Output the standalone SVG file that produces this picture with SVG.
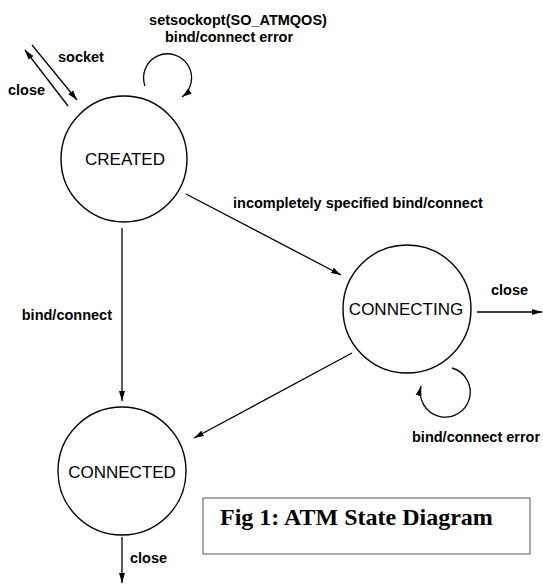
<svg xmlns="http://www.w3.org/2000/svg" width="543" height="584" viewBox="0 0 543 584">
<style>
.state{fill:#fff;stroke:#000;stroke-width:1.4}
.stext{font-family:"Liberation Sans",Arial,sans-serif;font-size:17px;fill:#000;text-anchor:middle}
.edge{fill:none;stroke:#000;stroke-width:1.3;marker-end:url(#arr)}
.lbl{font-family:"Liberation Sans",Arial,sans-serif;font-size:14.5px;font-weight:bold;fill:#000}
</style>
<defs>
<marker id="arr" markerUnits="userSpaceOnUse" markerWidth="11" markerHeight="7" refX="10" refY="3.5" orient="auto">
<path d="M0,0.5 L10,3.5 L0,6.5 z" fill="#000"/>
</marker>
</defs>
<rect width="543" height="584" fill="#fff"/>
<g id="connectors">
<line class="edge" x1="32" y1="45" x2="77" y2="100"/>
<line class="edge" x1="68" y1="106" x2="25" y2="50"/>
<path class="edge" d="M145,86 A24,24 0 1 1 182,97"/>
<line class="edge" x1="186" y1="194" x2="341" y2="275"/>
<line class="edge" x1="122" y1="228" x2="122" y2="401"/>
<line class="edge" x1="352" y1="353" x2="194" y2="438"/>
<line class="edge" x1="477" y1="312" x2="542" y2="312"/>
<path class="edge" d="M452,368 A25,25 0 1 1 421,386"/>
<line class="edge" x1="122" y1="537" x2="122" y2="583"/>
</g>
<g id="labels">
<text class="lbl" x="58" y="62">socket</text>
<text class="lbl" x="8" y="95">close</text>
<text class="lbl" x="238" y="25" text-anchor="middle" font-size="15">setsockopt(SO_ATMQOS)</text>
<text class="lbl" x="165" y="42">bind/connect error</text>
<text class="lbl" x="233" y="208">incompletely specified bind/connect</text>
<text class="lbl" x="112" y="320" text-anchor="end">bind/connect</text>
<text class="lbl" x="491" y="295">close</text>
<text class="lbl" x="412" y="442">bind/connect error</text>
<text class="lbl" x="130" y="563">close</text>
</g>
<g id="created">
<circle class="state" cx="124" cy="159" r="63"/>
<text class="stext" x="125" y="165">CREATED</text>
</g>
<g id="connecting">
<circle class="state" cx="407" cy="309" r="64"/>
<text class="stext" x="406" y="315">CONNECTING</text>
</g>
<g id="connected">
<circle class="state" cx="122" cy="471" r="64"/>
<text class="stext" x="122" y="478">CONNECTED</text>
</g>
<g id="caption">
<rect x="203" y="498" width="327" height="56" fill="#fff" stroke="#555" stroke-width="1"/>
<text x="220" y="525" font-family="'Liberation Serif','Times New Roman',serif" font-size="24" font-weight="bold" fill="#000">Fig 1: ATM State Diagram</text>
</g>
</svg>
